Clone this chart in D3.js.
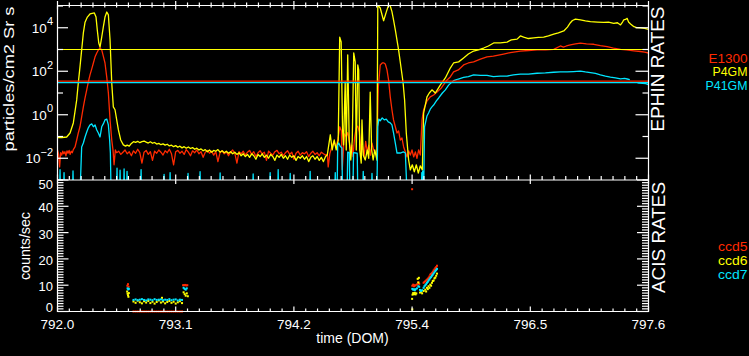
<!DOCTYPE html>
<html><head><meta charset="utf-8">
<script src="https://cdn.jsdelivr.net/npm/d3@7"></script>
<style>html,body{margin:0;padding:0;background:#000;overflow:hidden}svg{display:block}text{font-family:"Liberation Sans",Arial,sans-serif;fill:#fff}</style>
</head><body><svg id="c" width="749" height="356"></svg>
<script>
// ---------------- data ----------------
const xMajorTicks = [792.0, 793.12, 794.24, 795.36, 796.48, 797.6];
const xTickLabels = ["792.0", "793.1", "794.2", "795.4", "796.5", "797.6"];
const ephinLabelExponents = [-2, 0, 2, 4];
const acisTicks = [0, 10, 20, 30, 40, 50];
const ephinNames = ["E1300", "P4GM", "P41GM"];
const acisNames = ["ccd5", "ccd6", "ccd7"];
const e1300Limit = 35, p4gmLimit = 1000, p41gmLimit = 30;

const e1300 = [
[792.000,.024],[792.010,.016],[792.020,.004],[792.030,.018],[792.040,.014],[792.050,.021],[792.060,.016],[792.070,.020],[792.080,.013],[792.090,.022],[792.100,.017],[792.110,.023],[792.120,.015],[792.130,.021],[792.140,.018],[792.150,.025],[792.160,.030],
[792.166,.033],[792.182,.069],[792.197,.145],[792.213,.28],[792.229,.79],[792.245,2.3],[792.261,5.9],[792.277,14],[792.292,32],[792.308,68],[792.324,126],[792.340,240],[792.356,460],[792.372,690],[792.387,955],[792.403,1170],[792.419,955],[792.434,500],[792.450,240],[792.467,52],[792.482,10],[792.498,.58],[792.514,.069],[792.526,.024],[792.536,.005],[792.548,.024],
[792.56,.018],[792.58,.021],[792.60,.015],[792.62,.019],[792.64,.024],[792.66,.016],[792.68,.020],[792.70,.013],[792.72,.022],[792.74,.017],[792.76,.026],[792.78,.018],[792.80,.006],[792.82,.019],[792.84,.023],[792.86,.015],[792.88,.020],[792.90,.008],[792.92,.021],[792.94,.017],[792.96,.024],[792.98,.019],[793.00,.014],[793.02,.022],[793.04,.018],[793.06,.026],[793.08,.016],[793.10,.005],[793.12,.020],[793.14,.023],[793.16,.017],[793.18,.021],[793.20,.015],[793.22,.025],[793.24,.019],[793.26,.013],[793.28,.022],[793.30,.018],[793.32,.024],[793.34,.016],[793.36,.020],[793.38,.011],[793.40,.019],[793.42,.023],[793.44,.017],[793.46,.021],[793.48,.014],[793.50,.020],[793.52,.007],[793.54,.018],[793.56,.022],[793.58,.016],[793.60,.020],[793.62,.013],[793.64,.019],[793.66,.024],[793.68,.017],[793.70,.006],[793.72,.020],[793.74,.016],[793.76,.021],[793.78,.014],[793.80,.019],[793.82,.023],[793.84,.015],[793.86,.020],[793.88,.012],[793.90,.018],[793.92,.022],[793.94,.016],[793.96,.019],[793.98,.008],[794.00,.021],[794.02,.017],[794.04,.014],[794.06,.020],[794.08,.023],[794.10,.016],[794.12,.019],[794.14,.013],[794.16,.018],[794.18,.022],[794.20,.015],[794.22,.019],[794.24,.009],[794.26,.017],[794.28,.021],[794.30,.014],[794.32,.018],[794.34,.016],[794.36,.020],[794.38,.012],[794.40,.017],[794.42,.021],[794.44,.015],[794.46,.018],[794.48,.013],[794.50,.019],[794.52,.016],[794.54,.014],
[794.557,.015],[794.565,.004],[794.58,.016],[794.60,.035],[794.62,.06],[794.64,.03],[794.66,.09],[794.675,.28],[794.69,.18],[794.698,.003],[794.71,.03],[794.72,.13],[794.735,.10],[794.75,.15],[794.765,.06],[794.78,.02],[794.79,.04],[794.80,.012],[794.815,.09],[794.83,.25],[794.845,.30],[794.86,.16],[794.875,.02],[794.89,.035],[794.905,.012],[794.92,.06],[794.935,.02],[794.95,.04],[794.965,.014],[794.98,.05],[794.995,.025],[795.01,.018],[795.025,.014],
[795.040,19],[795.058,195],[795.077,240],[795.090,245],[795.106,215],[795.122,115],[795.137,40],[795.153,6.6],[795.169,1.7],[795.184,.58],[795.201,.28],[795.217,.145],[795.232,.18],[795.248,.069],[795.264,.085],[795.280,.033],[795.296,.0195],[795.312,.0115],[795.327,.022],[795.343,.014],[795.359,.024],[795.375,.0115],[795.391,.0195],[795.406,.010],[795.422,.024],[795.438,.014],[795.454,.58],
[795.469,1.7],[795.501,4.3],[795.532,6.6],[795.564,8.1],[795.596,11],[795.637,17],[795.691,40],[795.722,55],[795.753,93],[795.798,115],[795.848,195],[795.893,240],[795.943,270],[796.007,360],[796.070,460],[796.130,500],[796.227,620],[796.291,720],[796.386,850],[796.462,900],[796.544,955],[796.623,955],[796.702,1020],[796.765,1450],[796.794,1300],[796.822,1450],[796.860,1620],[796.908,1800],[796.955,1950],[797.012,1800],[797.081,1740],[797.144,1500],[797.208,1350],[797.268,1170],[797.335,1020],[797.391,955],[797.462,870],[797.525,810],[797.563,760],[797.600,690]
];

const p4gm = [
[792.000,.088],[792.040,.090],[792.087,.095],[792.119,.145],[792.150,.42],[792.182,4.8],[792.197,29],[792.213,160],[792.229,960],[792.245,5800],[792.261,18000],[792.283,31000],[792.308,43000],[792.349,48000],[792.365,31000],[792.377,7900],[792.391,2000],[792.403,1300],[792.419,3700],[792.434,10700],[792.450,31000],[792.467,53000],[792.482,39000],[792.498,2750],[792.514,29],[792.529,2.3],[792.545,1.7],[792.561,.58],[792.577,.20],[792.599,.069],[792.624,.041],[792.645,.036],
[792.66,.040],[792.68,.036],[792.70,.048],[792.72,.058],[792.74,.054],[792.76,.060],[792.78,.052],[792.80,.058],[792.82,.062],[792.84,.055],[792.86,.050],[792.88,.057],[792.90,.049],[792.92,.053],[792.94,.045],[792.96,.048],[792.98,.042],[793.00,.046],[793.02,.040],[793.04,.044],[793.06,.037],[793.08,.040],[793.10,.034],[793.12,.038],[793.14,.032],[793.16,.036],[793.18,.030],[793.20,.034],[793.22,.029],[793.24,.033],[793.26,.028],[793.28,.031],[793.30,.026],[793.32,.029],[793.34,.024],[793.36,.027],[793.38,.022],[793.40,.025],[793.42,.020],[793.44,.024],[793.46,.019],[793.48,.023],[793.50,.021],[793.52,.025],[793.54,.019],[793.56,.022],[793.58,.018],[793.60,.021],[793.62,.017],[793.64,.020],[793.66,.016],[793.68,.019],[793.70,.015],[793.72,.018],[793.74,.013],[793.76,.016],[793.78,.012],[793.80,.015],[793.82,.011],[793.84,.016],[793.86,.013],[793.88,.009],[793.90,.015],[793.92,.012],[793.94,.016],[793.96,.011],[793.98,.014],[794.00,.010],[794.02,.015],[794.04,.012],[794.06,.008],[794.08,.014],[794.10,.011],[794.12,.015],[794.14,.010],[794.16,.013],[794.18,.009],[794.20,.014],[794.22,.011],[794.24,.013],[794.26,.008],[794.28,.012],[794.30,.010],[794.32,.013],[794.34,.009],[794.36,.012],[794.38,.007],[794.40,.011],[794.42,.013],[794.44,.009],[794.46,.012],[794.48,.008],[794.50,.011],[794.52,.007],[794.54,.012],
[794.556,.014],[794.585,.12],[794.603,.024],[794.622,.069],[794.641,.024],[794.660,.069],[794.674,3700],[794.688,2200],[794.701,.2],[794.710,.041],[794.726,32],[794.736,.024],[794.750,560],[794.764,.069],[794.779,.0083],[794.793,.069],[794.807,690],[794.821,270],[794.831,.024],[794.845,195],[794.854,115],[794.864,.024],[794.878,.006],[794.885,.58],[794.897,.014],[794.916,.0083],[794.935,.024],[794.949,.010],[794.963,11],[794.977,.024],[794.991,.0083],[795.006,.024],[795.027,.0083],
[795.035,110000],[795.058,81000],[795.090,21000],[795.115,52000],[795.137,110000],[795.153,100000],[795.169,55000],[795.184,23000],[795.201,7900],[795.232,955],[795.274,32],[795.289,4.8],[795.305,.145],[795.327,.0083],[795.343,.0029],[795.362,.005],[795.381,.0024],[795.400,.005],[795.419,.0021],[795.438,.0045],[795.457,.0029],
[795.469,1.2],[795.485,2.8],[795.501,6.6],[795.523,10],[795.548,14],[795.580,10],[795.599,14],[795.627,23],[795.675,49],[795.722,140],[795.753,240],[795.801,270],[795.848,410],[795.893,620],[795.943,850],[795.988,955],[796.038,1170],[796.083,1450],[796.133,2000],[796.196,2000],[796.260,2200],[796.300,2750],[796.355,3000],[796.386,4200],[796.417,3700],[796.462,3200],[796.512,3400],[796.557,3600],[796.607,3700],[796.652,4200],[796.702,5100],[796.746,5800],[796.797,7100],[796.832,10700],[796.860,17000],[796.879,21500],[796.908,25000],[796.955,23000],[797.002,20500],[797.050,19000],[797.116,18300],[797.176,17800],[797.221,18300],[797.271,16000],[797.306,17000],[797.335,13500],[797.354,18300],[797.366,23000],[797.382,24000],[797.398,27000],[797.411,18300],[797.430,15000],[797.462,11200],[797.488,10200],[797.525,10000],[797.563,9300],[797.600,8500]
];

const p41gm = [
[792.000,.0004],[792.020,.0004],[792.024,.0030],[792.028,.0004],[792.058,.0004],[792.062,.0022],[792.066,.0004],[792.143,.0004],[792.147,.0026],[792.151,.0004],[792.215,.0004],
[792.229,.033],[792.245,.05],[792.261,.095],[792.277,.16],[792.292,.25],[792.308,.34],[792.324,.38],[792.340,.28],[792.356,.34],[792.372,.20],[792.387,.145],[792.403,.095],[792.419,.28],[792.434,.38],[792.450,.58],[792.467,.63],[792.482,.34],[792.494,.069],[792.501,.0174],[792.507,.0004],
[792.560,.0004],[792.564,.0035],[792.568,.0004],[792.589,.0004],[792.593,.0028],[792.597,.0004],[792.627,.0004],[792.631,.0032],[792.635,.0004],[792.655,.0004],[792.659,.0025],[792.663,.0004],[792.788,.0004],[792.792,.0030],[792.796,.0004],[793.006,.0004],[793.010,.0018],[793.014,.0004],[793.063,.0004],[793.067,.0022],[793.071,.0004],[793.233,.0004],[793.237,.0020],[793.241,.0004],[793.347,.0004],[793.351,.0024],[793.355,.0004],[793.537,.0004],[793.541,.0021],[793.545,.0004],[793.850,.0004],[793.854,.0019],[793.858,.0004],[794.011,.0004],[794.015,.0022],[794.019,.0004],[794.087,.0004],[794.091,.0030],[794.095,.0004],[794.201,.0004],[794.205,.0020],[794.209,.0004],[794.390,.0004],[794.394,.0025],[794.398,.0004],[794.628,.0004],[794.632,.0022],[794.636,.0004],
[794.650,.0004],[794.655,.040],[794.665,.050],[794.680,.035],[794.695,.030],[794.700,.0004],[794.745,.0004],[794.750,.019],[794.765,.018],[794.770,.0004],[794.800,.0004],[794.805,.018],[794.840,.017],[794.845,.0004],[794.893,.0004],[794.897,.0025],[794.901,.0004],[794.976,.0004],[794.980,.0020],[794.984,.0004],[795.027,.0004],
[795.035,.28],[795.045,.63],[795.058,.53],[795.077,.71],[795.096,.58],[795.115,.63],[795.134,.47],[795.153,.42],[795.169,.34],[795.184,.145],[795.201,.05],[795.217,.0174],[795.248,.0174],[795.277,.0195],[795.296,.0174],[795.310,.0004],
[795.448,.0004],[795.452,.0022],[795.456,.0004],[795.460,.0026],[795.464,.0004],[795.470,.0004],
[795.478,.28],[795.501,.88],[795.516,1.2],[795.532,1.8],[795.548,2.3],[795.564,2.8],[795.590,4.3],[795.612,5.9],[795.647,10],[795.675,14],[795.706,23],[795.753,37],[795.798,44],[795.848,52],[795.893,57],[795.943,68],[796.007,64],[796.070,65],[796.130,57],[796.196,60],[796.260,60],[796.320,68],[796.386,74],[796.462,74],[796.544,81],[796.623,84],[796.702,90],[796.765,93],[796.829,93],[796.889,97],[796.955,102],[797.002,93],[797.050,86],[797.097,80],[797.144,68],[797.192,60],[797.239,54],[797.287,50],[797.335,45],[797.373,47],[797.398,44],[797.423,41],[797.460,null],[797.496,29],[797.544,28],[797.573,27],[797.600,24]
];

const ccd5 = [
[792.662,9.8],[792.668,10.4],[792.673,9.4],
[792.72,0],[792.74,0],[792.76,0],[792.78,0],[792.80,0],[792.82,0],[792.84,0],[792.86,0],[792.88,0],[792.90,0],[792.92,0],[792.94,0],[792.96,0],[792.98,0],[793.00,0],[793.02,0],[793.04,0],[793.06,0],[793.08,0],[793.10,0],[793.12,0],[793.14,0],[793.16,0],[793.18,0],
[793.190,10.0],[793.200,10.0],[793.210,10.1],[793.220,9.9],[793.230,10.0],
[795.360,46.5],[795.362,9.8],[795.370,10.2],[795.378,9.6],[795.386,10.0],[795.393,9.9],[795.406,10.3],[795.419,11.1],[795.427,10.5],[795.469,10.9],[795.477,11.2],[795.485,11.5],[795.493,11.8],[795.501,12.1],[795.509,12.4],[795.516,12.8],[795.524,13.3],[795.532,14.0],[795.540,14.3],[795.548,14.6],[795.556,15.1],[795.564,15.6],[795.572,16.0],[795.580,16.5],[795.588,16.9],[795.596,17.4]
];
const ccd6 = [
[792.660,7.6],[792.664,6.8],[792.668,6.2],[792.672,5.6],[792.676,7.0],
[792.72,3.8],[792.74,3.3],[792.76,4.1],[792.78,3.5],[792.80,3.1],[792.82,3.9],[792.84,3.4],[792.86,4.0],[792.88,3.2],[792.90,3.7],[792.92,3.0],[792.94,3.6],[792.96,4.2],[792.98,3.4],[792.99,5.2],[793.00,3.8],[793.02,3.1],[793.04,3.6],[793.06,4.0],[793.08,3.3],[793.10,3.7],[793.12,3.0],[793.14,3.5],[793.16,3.9],[793.18,3.2],
[793.195,7.3],[793.205,6.6],[793.215,6.0],[793.225,6.9],[793.235,5.8],
[795.360,4.8],[795.362,0.8],[795.364,6.4],[795.370,7.0],[795.378,6.6],[795.386,7.1],[795.393,6.5],[795.400,6.9],[795.413,12.4],[795.419,11.0],[795.424,12.8],[795.435,7.2],[795.445,7.5],[795.455,6.9],[795.469,7.8],[795.485,8.3],[795.493,7.6],[795.501,9.0],[795.509,8.5],[795.516,9.6],[795.524,9.0],[795.532,10.2],[795.540,9.8],[795.548,10.9],[795.556,11.6],[795.564,11.8],[795.572,12.6],[795.580,12.9],[795.588,13.6],[795.596,14.4]
];
const ccd7 = [
[792.664,8.8],[792.670,8.4],[792.676,8.6],
[792.72,4.4],[792.74,4.6],[792.76,4.3],[792.78,4.5],[792.80,4.7],[792.82,4.4],[792.84,4.2],[792.86,4.6],[792.88,4.5],[792.90,4.3],[792.92,4.7],[792.94,4.4],[792.96,4.5],[792.98,4.6],[793.00,4.3],[793.02,4.5],[793.04,4.4],[793.06,4.7],[793.08,4.3],[793.10,4.5],[793.12,4.6],[793.14,4.2],[793.16,4.5],[793.18,4.4],
[793.195,9.0],[793.205,8.6],[793.215,8.3],[793.225,8.8],
[795.362,8.6],[795.370,8.3],[795.378,8.4],[795.386,8.1],[795.393,8.5],[795.406,8.8],[795.419,9.6],[795.427,9.4],[795.435,8.2],[795.445,7.8],[795.455,8.1],[795.469,9.0],[795.477,9.6],[795.485,10.0],[795.493,10.4],[795.501,10.9],[795.509,11.3],[795.516,11.8],[795.524,12.2],[795.532,12.7],[795.540,13.1],[795.548,13.6],[795.556,14.0],[795.564,14.5],[795.572,14.9],[795.580,15.4],[795.588,15.8],[795.596,16.2]
];

// ---------------- drawing ----------------
const RED = "#ff2a00", YEL = "#ffff00", CYA = "#00e5ff";
const svg = d3.select("#c");
svg.append("rect").attr("width", 749).attr("height", 356).attr("fill", "#000");

const x = d3.scaleLinear().domain([792, 797.6]).range([57.5, 648.5]);
const yE = d3.scaleLog().domain([1e-3, 1e5]).range([180, 6]);
const yA = d3.scaleLinear().domain([0, 50]).range([311.5, 180]);

const defs = svg.append("defs");
defs.append("clipPath").attr("id", "clipE").append("rect").attr("x", 57.5).attr("y", 5.5).attr("width", 591).attr("height", 174.5);
defs.append("clipPath").attr("id", "clipA").append("rect").attr("x", 57.5).attr("y", 180).attr("width", 591).attr("height", 133);

// EPHIN lines
const gE = svg.append("g").attr("clip-path", "url(#clipE)");
const line = d3.line().defined(d => d[1] != null).x(d => x(d[0])).y(d => yE(d[1]));
[[e1300, RED], [p4gm, YEL], [p41gm, CYA]].forEach(([data, col]) => {
  gE.append("path").datum(data).attr("d", line).attr("fill", "none").attr("stroke", col).attr("stroke-width", 1.3).attr("stroke-linejoin", "round");
});
// limit lines
[[p4gmLimit, YEL, 1.2], [e1300Limit, RED, 1.2], [p41gmLimit, CYA, 1.4]].forEach(([v, col, w]) => {
  gE.append("line").attr("x1", 57.5).attr("x2", 648.5).attr("y1", yE(v)).attr("y2", yE(v)).attr("stroke", col).attr("stroke-width", w);
});

// ACIS dots
const gA = svg.append("g").attr("clip-path", "url(#clipA)");
[[ccd5, RED], [ccd6, YEL], [ccd7, CYA]].forEach(([data, col]) => {
  gA.selectAll(null).data(data).enter().append("rect")
    .attr("x", d => x(d[0]) - 1).attr("y", d => yA(d[1]) - 1).attr("width", 2).attr("height", 2).attr("fill", col);
});

// ---------------- axes ----------------
const ax = svg.append("g").attr("stroke", "#fff").attr("stroke-width", 1.2);
function L(x1, y1, x2, y2) { ax.append("line").attr("x1", x1).attr("y1", y1).attr("x2", x2).attr("y2", y2); }
L(57.5, 5.5, 648.5, 5.5); L(57.5, 180, 648.5, 180); L(57.5, 311.5, 648.5, 311.5);
L(57.5, 5.5, 57.5, 312); L(648.5, 5.5, 648.5, 312);
const minorX = d3.range(51).map(i => 792 + i * 0.112);
minorX.forEach(t => {
  const X = x(t);
  const major = xMajorTicks.some(m => Math.abs(m - t) < 1e-6);
  if (major) { L(X, 1, X, 9.5); L(X, 174.5, X, 184); L(X, 306.5, X, 311.5); }
  else { L(X, 2.5, X, 7.5); L(X, 176, X, 180); L(X, 308.5, X, 311.5); }
});
d3.range(-3, 6).forEach(p => {
  const Y = yE(Math.pow(10, p));
  const even = p % 2 === 0;
  L(57.5, Y, even ? 68 : 63, Y);
  L(even ? 635.5 : 642.5, Y, 648.5, Y);
});
d3.range(0, 51).forEach(v => {
  const Y = yA(v);
  const major = v % 10 === 0;
  L(57.5, Y, major ? 68.5 : 63.5, Y);
  L(major ? 637 : 642, Y, 648.5, Y);
});

// labels
const tg = svg.append("g");
xMajorTicks.forEach((t, i) => {
  tg.append("text").attr("x", x(t)).attr("y", 329.3).attr("text-anchor", "middle").attr("font-size", 13.5).text(xTickLabels[i]);
});
tg.append("text").attr("x", 352.5).attr("y", 342.5).attr("text-anchor", "middle").attr("font-size", 14).text("time (DOM)");

ephinLabelExponents.forEach(p => {
  const Y = yE(Math.pow(10, p));
  const t = tg.append("text").attr("x", 53).attr("y", Y + 4.9).attr("text-anchor", "end").attr("font-size", 13.5);
  t.append("tspan").text("10");
  t.append("tspan").attr("dy", -7.2).attr("font-size", 11).text(p < 0 ? "\u2212" + Math.abs(p) : String(p));
});
acisTicks.forEach(v => {
  const Y = Math.min(Math.max(yA(v) + 1.2, 184), 307.5);
  tg.append("text").attr("x", 53).attr("y", Y + 4.7).attr("text-anchor", "end").attr("font-size", 13).text(String(v));
});

tg.append("text").attr("transform", "translate(14,79) rotate(-90)").attr("text-anchor", "middle").attr("font-size", 14)
  .attr("textLength", 145).attr("lengthAdjust", "spacingAndGlyphs").text("particles/cm2 Sr s");
tg.append("text").attr("transform", "translate(30,246) rotate(-90)").attr("text-anchor", "middle").attr("font-size", 14)
  .attr("textLength", 68).attr("lengthAdjust", "spacingAndGlyphs").text("counts/sec");
tg.append("text").attr("transform", "translate(663.5,69) rotate(-90)").attr("text-anchor", "middle").attr("font-size", 18)
  .attr("textLength", 125).attr("lengthAdjust", "spacingAndGlyphs").text("EPHIN RATES");
tg.append("text").attr("transform", "translate(664.5,237.5) rotate(-90)").attr("text-anchor", "middle").attr("font-size", 18)
  .attr("textLength", 111).attr("lengthAdjust", "spacingAndGlyphs").text("ACIS RATES");

// legends
const ephinLegend = [[ephinNames[0], RED, 62.5, 39], [ephinNames[1], YEL, 76.3, 35], [ephinNames[2], CYA, 90, 42]];
ephinLegend.forEach(([name, col, y, w]) => {
  tg.append("text").attr("x", 747.5 - w).attr("y", y).attr("font-size", 13).attr("textLength", w).attr("lengthAdjust", "spacingAndGlyphs").style("fill", col).text(name);
});
const acisLegend = [[acisNames[0], RED, 251], [acisNames[1], YEL, 265], [acisNames[2], CYA, 279]];
acisLegend.forEach(([name, col, y]) => {
  tg.append("text").attr("x", 718).attr("y", y).attr("font-size", 12.5).attr("textLength", 29.5).attr("lengthAdjust", "spacingAndGlyphs").style("fill", col).text(name);
});
</script>
</body></html>
